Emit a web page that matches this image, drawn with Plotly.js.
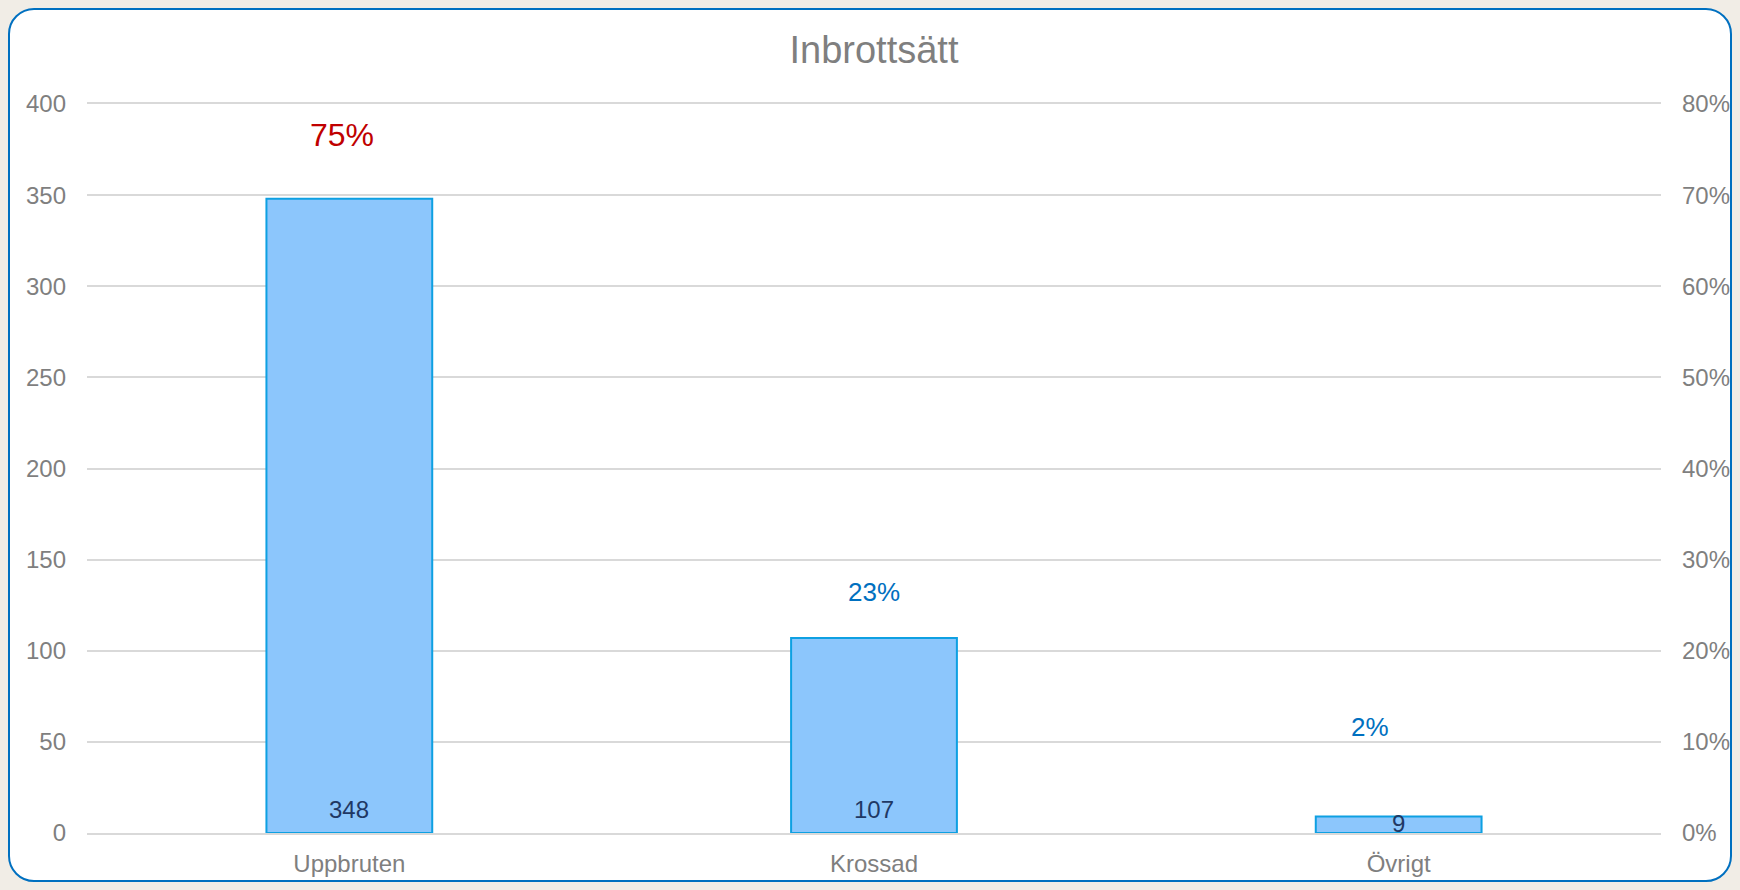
<!DOCTYPE html>
<html>
<head>
<meta charset="utf-8">
<script src="https://cdn.plot.ly/plotly-3.0.1.min.js"></script>
<style>
  html, body { margin: 0; padding: 0; background: #F1EDE6; width: 1740px; height: 890px; overflow: hidden; }
  #frame { position: absolute; left: 8px; top: 8px; width: 1724px; height: 874px; background: #FFFFFF;
           border: 2px solid #0070C0; border-radius: 26px; box-sizing: border-box; }
  #chart { position: absolute; left: 0; top: 0; width: 1740px; height: 890px; }
</style>
</head>
<body>
<div id="frame"></div>
<div id="chart"></div>
<script>
// ---- data ----
const categories = ["Uppbruten", "Krossad", "Övrigt"];
const counts = [348, 107, 9];
const leftTicks = [0, 50, 100, 150, 200, 250, 300, 350, 400];
const rightTicks = [0, 0.1, 0.2, 0.3, 0.4, 0.5, 0.6, 0.7, 0.8];

// ---- styles ----
const pctColors = ["#C00000", "#0070C0", "#0070C0"];
const pctSizes = [32, 26, 26];
const pctYShift = [15, 31, 88];
const pctXShift = [-7, 0, -29];
const countYShift = [24, 24, 10];

const total = counts.reduce((a, b) => a + b, 0);
const pct = counts.map(c => c / total);

const FONT = "Liberation Sans, Arial, sans-serif";
const GRAY = "#7F7F7F";
const GRID = "#D9D9D9";

const bars = {
  type: "bar",
  x: categories,
  y: counts,
  width: 0.316,
  marker: { color: "#8CC6FC", line: { color: "#0EA0E2", width: 2 } },
  hoverinfo: "x+y",
  showlegend: false
};

const pctTrace = {
  type: "scatter",
  mode: "markers",
  x: categories,
  y: pct,
  yaxis: "y2",
  marker: { opacity: 0, size: 1 },
  hoverinfo: "skip",
  showlegend: false
};

const annotations = [];
categories.forEach((c, i) => {
  annotations.push({
    x: c, y: pct[i], xref: "x", yref: "y2",
    text: Math.round(pct[i] * 100) + "%",
    showarrow: false, xanchor: "center", yanchor: "middle",
    xshift: pctXShift[i], yshift: pctYShift[i],
    font: { family: FONT, size: pctSizes[i], color: pctColors[i] }
  });
  annotations.push({
    x: c, y: 0, xref: "x", yref: "y",
    text: String(counts[i]),
    showarrow: false, xanchor: "center", yanchor: "middle",
    yshift: countYShift[i],
    font: { family: FONT, size: 24, color: "#1F3864" }
  });
});

const layout = {
  width: 1740, height: 890,
  paper_bgcolor: "rgba(0,0,0,0)",
  plot_bgcolor: "rgba(0,0,0,0)",
  margin: { l: 87, r: 79, t: 104, b: 57 },
  font: { family: FONT, color: GRAY, size: 24 },
  title: {
    text: "Inbrottsätt",
    font: { family: FONT, size: 38, color: GRAY },
    x: 0.5, xref: "paper", xanchor: "center",
    y: 1 - 50 / 890, yref: "container", yanchor: "middle"
  },
  xaxis: {
    type: "category",
    showgrid: false, zeroline: false,
    showline: true, mirror: true, linecolor: GRID, linewidth: 2,
    layer: "below traces",
    ticks: "", ticklabelstandoff: 8,
    tickfont: { family: FONT, size: 24, color: GRAY }
  },
  yaxis: {
    range: [0, 400], tickvals: leftTicks,
    showgrid: true, gridcolor: GRID, gridwidth: 2,
    zeroline: false, showline: false, ticks: "",
    ticklabelstandoff: 20,
    tickfont: { family: FONT, size: 24, color: GRAY }
  },
  yaxis2: {
    overlaying: "y", side: "right",
    range: [0, 0.8], tickvals: rightTicks, tickformat: ".0%",
    showgrid: false, zeroline: false, showline: false, ticks: "",
    ticklabelstandoff: 20,
    tickfont: { family: FONT, size: 24, color: GRAY }
  },
  annotations: annotations
};

Plotly.newPlot("chart", [bars, pctTrace], layout, { displayModeBar: false, staticPlot: true });
</script>
</body>
</html>
